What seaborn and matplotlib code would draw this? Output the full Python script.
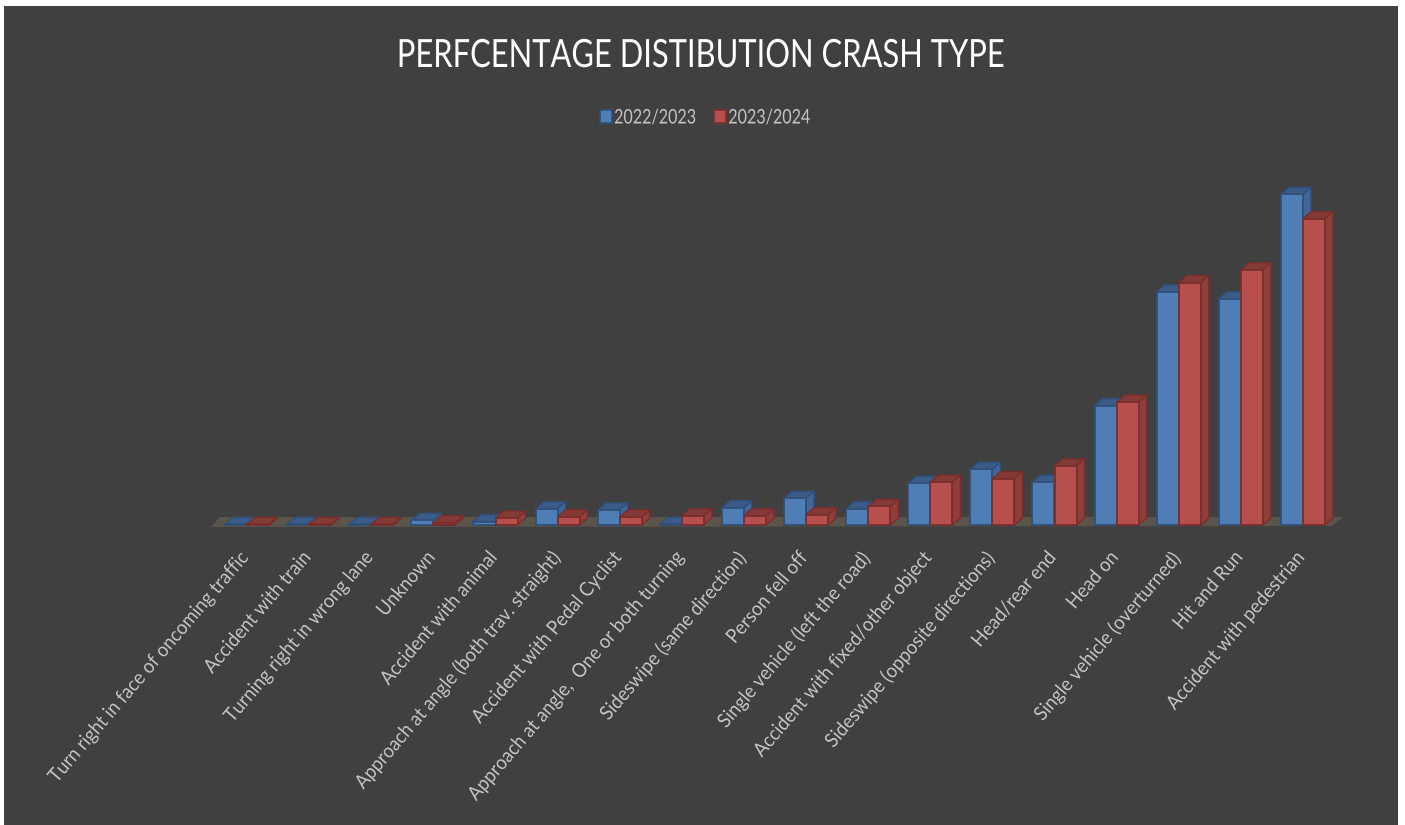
import pandas as pd
import seaborn as sns
import matplotlib.pyplot as plt
from matplotlib.patches import Polygon, Rectangle
from matplotlib.patheffects import AbstractPathEffect
from matplotlib.transforms import Affine2D, ScaledTranslation

# values (no axis in the original, scaled so each year sums to ~100 %)
crash_types = ["Turn right in face of oncoming traffic", "Accident with train",
               "Turning right in wrong lane", "Unknown", "Accident with animal",
               "Approach at angle (both trav. straight)", "Accident with Pedal Cyclist",
               "Approach at angle,  One or both turning", "Sideswipe (same direction)",
               "Person fell off", "Single vehicle (left the road)",
               "Accident with fixed/other object", "Sideswipe (opposite directions)",
               "Head/rear end", "Head on", "Single vehicle (overturned)", "Hit and Run",
               "Accident with pedestrian"]
pct_2223 = [0.05, 0.05, 0.05, 0.4, 0.3, 1.4, 1.3, 0.05, 1.5, 2.3, 1.4, 3.6, 4.8, 3.7, 10.3, 20.1, 19.5, 28.5]
pct_2324 = [0.05, 0.05, 0.05, 0.2, 0.6, 0.7, 0.7, 0.8, 0.8, 0.9, 1.6, 3.7, 4.0, 5.1, 10.6, 20.9, 22.0, 26.4]
years = ["2022/2023", "2023/2024"]

BG = "#404040"
FRONT = {"2022/2023": "#4f7db6", "2023/2024": "#b7504c"}
EDGE = {"2022/2023": "#2f5078", "2023/2024": "#7a2e2c"}
TOP = {"2022/2023": "#3b5c88", "2023/2024": "#843a37"}
SIDE = {"2022/2023": "#42669a", "2023/2024": "#8e3f3c"}
W, H = 1405, 825
DEPTH_X = 8  # px
DEPTH_Y = 7


class Squeeze(AbstractPathEffect):
    # the original font is narrower than anything installed, so squeeze glyphs sideways
    def __init__(self, sx, anchor):
        super().__init__()
        self.sx = sx
        self.anchor = anchor

    def draw_path(self, renderer, gc, tpath, affine, rgbFace=None):
        ext = tpath.get_extents()
        a = {"left": ext.x0, "center": (ext.x0 + ext.x1) / 2, "right": ext.x1}[self.anchor]
        local = Affine2D().translate(-a, 0).scale(self.sx, 1).translate(a, 0)
        renderer.draw_path(gc, tpath, local + affine, rgbFace)


df = pd.DataFrame({"crash": crash_types * 2,
                   "year": [years[0]] * 18 + [years[1]] * 18,
                   "pct": pct_2223 + pct_2324})

plt.rcParams["font.family"] = ["Lato", "DejaVu Sans"]
fig = plt.figure(figsize=(W / 100, H / 100), dpi=100, facecolor="white")
fig.add_artist(Rectangle((4 / W, 0), 1394 / W, 1 - 6 / H, transform=fig.transFigure,
                         facecolor=BG, edgecolor="none", zorder=-5))

# axes placed so that 0 is at the floor line
ax = fig.add_axes([216 / W, 1 - 525 / H, 1118 / W, 348 / H])
ax.patch.set_alpha(0)
sns.barplot(data=df, x="crash", y="pct", hue="year", hue_order=years, palette=FRONT,
            width=0.71, gap=0, saturation=1, ax=ax, legend=False)
ax.set_xlim(-0.5, 17.5)
ax.set_ylim(0, 30)
ax.set_xlabel("")
ax.set_ylabel("")
ax.set_yticks([])
for s in ax.spines.values():
    s.set_visible(False)

px_x = 18 / 1118
px_y = 30 / 348
dx = DEPTH_X * px_x
dy = DEPTH_Y * px_y

# floor
ax.add_patch(Polygon([(-0.5 - 5 * px_x, -2 * px_y), (17.5 - 2 * px_x, -1 * px_y),
                      (17.5 + 9 * px_x, 8 * px_y), (-0.5 + 4 * px_x, 8 * px_y)],
                     closed=True, facecolor="#59554a", edgecolor="none",
                     clip_on=False, zorder=0.5))

# fake the 3D look: each bar gets a top and a side face
for k, (yr, cont) in enumerate(zip(years, ax.containers)):
    for bar in cont:
        x0, x1 = bar.get_x(), bar.get_x() + bar.get_width()
        h = bar.get_height()
        bar.set_edgecolor(EDGE[yr])
        bar.set_linewidth(1.3)
        bar.set_zorder(3 + 2 * k)
        bar.set_clip_on(False)
        ax.add_patch(Polygon([(x0, h), (x1, h), (x1 + dx, h + dy), (x0 + dx, h + dy)], closed=True,
                             facecolor=TOP[yr], edgecolor=EDGE[yr], lw=1.0,
                             clip_on=False, zorder=2 + 2 * k))
        ax.add_patch(Polygon([(x1, 0), (x1 + dx, dy), (x1 + dx, h + dy), (x1, h)], closed=True,
                             facecolor=SIDE[yr], edgecolor=EDGE[yr], lw=1.0,
                             clip_on=False, zorder=2 + 2 * k))

ax.set_xticks(range(len(crash_types)))
ax.set_xticklabels(crash_types, rotation=49.5, ha="right", va="top", rotation_mode="anchor",
                   fontsize=14.2, color="#c4c4c4")
ax.tick_params(axis="x", length=0, pad=17)
shift = ScaledTranslation(-8 / 100, 0, fig.dpi_scale_trans)
for lab in ax.get_xticklabels():
    lab.set_transform(lab.get_transform() + shift)
    lab.set_path_effects([Squeeze(0.93, "right")])

handles = [Rectangle((0, 0), 1, 1, facecolor=FRONT[y], edgecolor=EDGE[y], lw=1.2) for y in years]
leg = fig.legend(handles, years, loc="center", bbox_to_anchor=(715.5 / W, 1 - 118 / H), ncol=2, frameon=False,
                 fontsize=14.5, labelcolor="#c4c4c4", handlelength=0.6, handleheight=0.6,
                 handletextpad=0.1, columnspacing=-0.15)
for t in leg.get_texts():
    t.set_path_effects([Squeeze(0.8, "left")])

title = fig.text(700 / W, 1 - 56 / H, "PERFCENTAGE DISTIBUTION CRASH TYPE", ha="center", va="center",
                 fontsize=28, color="white")
title.set_path_effects([Squeeze(0.795, "center")])

fig.savefig("out.png", dpi=100, facecolor=fig.get_facecolor())
